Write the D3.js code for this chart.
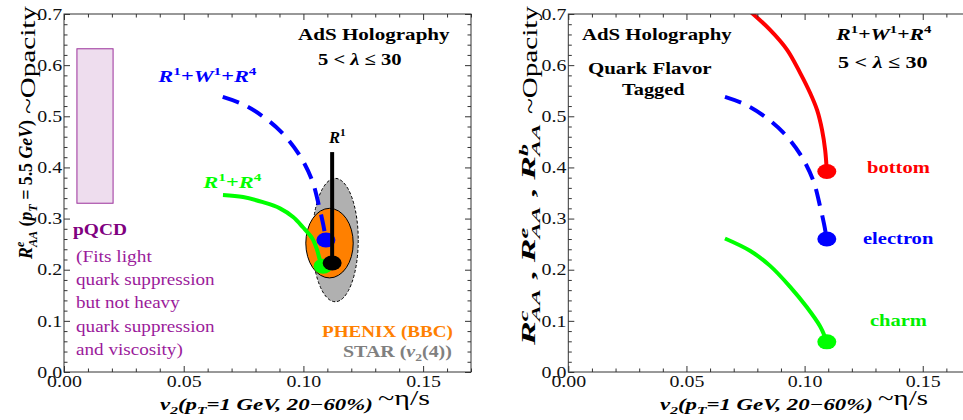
<!DOCTYPE html>
<html><head><meta charset="utf-8">
<script src="https://cdn.jsdelivr.net/npm/d3@7"></script>
<style>body{margin:0;background:#fff}svg{display:block}text{white-space:pre}</style>
</head><body><svg id="c" width="963" height="420"></svg>
<script>
// ---------- data ----------
const xDomain = [0, 0.17];
const yDomain = [0, 0.7];
const xMajor = [0, 0.05, 0.10, 0.15];
const xTickLabels = ["0.00", "0.05", "0.10", "0.15"];
const xMinor = [0.01,0.02,0.03,0.04,0.06,0.07,0.08,0.09,0.11,0.12,0.13,0.14,0.16,0.17];
const yMajor = [0, 0.1, 0.2, 0.3, 0.4, 0.5, 0.6, 0.7];
const yTickLabels = ["0.0","0.1","0.2","0.3","0.4","0.5","0.6","0.7"];
const yMinor = [0.02,0.04,0.06,0.08,0.12,0.14,0.16,0.18,0.22,0.24,0.26,0.28,0.32,0.34,0.36,0.38,
                0.42,0.44,0.46,0.48,0.52,0.54,0.56,0.58,0.62,0.64,0.66,0.68];

// R1+W1+R4 (electron) curve, dashed blue
const electronCurve = [[0.0663,0.538],[0.0745,0.524],[0.0824,0.502],[0.0908,0.469],[0.0981,0.426],
                       [0.1036,0.375],[0.1066,0.323],[0.1082,0.290],[0.1094,0.260]];
// R1+R4 curve, green (left panel)
const r1r4Curve = [[0.0664,0.346],[0.0748,0.342],[0.0831,0.332],[0.0902,0.320],[0.0957,0.303],
                   [0.0998,0.283],[0.1036,0.262],[0.1057,0.239],[0.1069,0.219],[0.1082,0.207]];
// charm curve (right panel)
const charmCurve = [[0.0663,0.261],[0.0769,0.237],[0.0853,0.208],[0.0938,0.167],[0.1009,0.127],
                    [0.1066,0.089],[0.1086,0.069],[0.1094,0.059]];
// bottom curve (right panel)
const bottomCurve = [[0.0752,0.712],[0.0854,0.669],[0.0926,0.630],[0.0981,0.585],[0.1023,0.546],
                     [0.1053,0.512],[0.1074,0.473],[0.1087,0.434],[0.1094,0.392]];
// end points
const leftDots = [{x:0.1094,y:0.258,c:"blue"},{x:0.1082,y:0.207,c:"green"},{x:0.1120,y:0.213,c:"black"}];
const rightDots = [{x:0.1094,y:0.392,c:"red"},{x:0.1094,y:0.260,c:"blue"},{x:0.1094,y:0.059,c:"green"}];
// R1 vertical line
const r1Line = [[0.112,0.430],[0.112,0.213]];
// measurement ellipses [cx, cy, rx, ry]
const starEllipse = [0.1133, 0.258, 0.0096, 0.1206];
const phenixEllipse = [0.1109, 0.252, 0.0099, 0.068];
// pQCD band [x0, x1, y0, y1]
const pqcdBox = [0.0054, 0.0205, 0.330, 0.632];

// ---------- style ----------
const SERIF = "'Liberation Serif', 'Times New Roman', serif";
const COL = {blue:"#0000FF", green:"#00FF00", red:"#FF0000", black:"#000000",
             orange:"#FF8000", gray:"#808080", purple:"#800080", purple2:"#9B1B9B"};
const svg = d3.select("#c");
const TOP = 14, BOT = 372;

function rich(parent, segs, o) {
  const g = parent.append("g");
  const inner = g.append("g");
  const t = inner.append("text").attr("font-family", SERIF).attr("font-size", o.size)
    .attr("fill", o.color || "#000");
  let shift = 0, prevW = 0;
  segs.forEach(([txt, f]) => {
    f = f || "";
    const isSup = f.includes("^"), isSub = f.includes("_");
    const sz = (isSup || isSub) ? o.size * 0.68 : o.size;
    const target = isSup ? -0.42 * o.size : isSub ? 0.27 * o.size : 0;
    const sp = t.append("tspan").text(txt).attr("font-size", sz)
      .attr("font-weight", f.includes("b") ? "bold" : "normal")
      .attr("font-style", f.includes("i") ? "italic" : "normal")
      .attr("dy", target - shift);
    if (f.includes("|")) sp.attr("dx", -prevW);
    shift = target;
    prevW = sp.node().getComputedTextLength();
  });
  const bb = t.node().getBBox();
  const s = o.w / bb.width;
  const sy = o.sy || 1;
  inner.attr("transform", `translate(${-bb.x * s},0) scale(${s},${sy})`);
  if (o.rot) g.attr("transform", `translate(${o.x},${o.y}) rotate(-90)`);
  else g.attr("transform", `translate(${o.x},${o.y})`);
  return g;
}

function panel(L, R, id) {
  const x = d3.scaleLinear(xDomain, [L, R]);
  const y = d3.scaleLinear(yDomain, [BOT, TOP]);
  const g = svg.append("g");
  svg.append("clipPath").attr("id", id).append("rect")
    .attr("x", L).attr("y", TOP).attr("width", R - L).attr("height", BOT - TOP);
  const plot = g.append("g").attr("clip-path", `url(#${id})`);
  const axes = g.append("g");
  const styleAxis = a => {
    a.select(".domain").remove();
    a.selectAll("line").attr("stroke", "#333");
    a.selectAll("text").attr("font-family", SERIF).attr("font-size", 16.3).attr("fill", "#111");
  };
  // bottom
  axes.append("g").attr("transform", `translate(0,${BOT})`)
    .call(d3.axisBottom(x).tickValues(xMajor).tickSize(-6).tickPadding(3)
      .tickFormat((d, i) => xTickLabels[i])).call(styleAxis)
    .selectAll("text").attr("transform", "scale(1.22,1)");
  axes.append("g").attr("transform", `translate(0,${BOT})`)
    .call(d3.axisBottom(x).tickValues(xMinor).tickSize(-3.5).tickFormat("")).call(styleAxis);
  // top
  axes.append("g").attr("transform", `translate(0,${TOP})`)
    .call(d3.axisTop(x).tickValues(xMajor).tickSize(-6).tickFormat("")).call(styleAxis);
  axes.append("g").attr("transform", `translate(0,${TOP})`)
    .call(d3.axisTop(x).tickValues(xMinor).tickSize(-3.5).tickFormat("")).call(styleAxis);
  // left
  axes.append("g").attr("transform", `translate(${L},0)`)
    .call(d3.axisLeft(y).tickValues(yMajor).tickSize(-6).tickPadding(1.5)
      .tickFormat((d, i) => yTickLabels[i])).call(styleAxis)
    .selectAll("text").attr("transform", "scale(1.22,1)");
  axes.append("g").attr("transform", `translate(${L},0)`)
    .call(d3.axisLeft(y).tickValues(yMinor).tickSize(-3.5).tickFormat("")).call(styleAxis);
  // right
  axes.append("g").attr("transform", `translate(${R},0)`)
    .call(d3.axisRight(y).tickValues(yMajor).tickSize(-6).tickFormat("")).call(styleAxis);
  axes.append("g").attr("transform", `translate(${R},0)`)
    .call(d3.axisRight(y).tickValues(yMinor).tickSize(-3.5).tickFormat("")).call(styleAxis);
  // frame
  axes.append("rect").attr("x", L).attr("y", TOP).attr("width", R - L).attr("height", BOT - TOP)
    .attr("fill", "none").attr("stroke", "#333").attr("stroke-width", 1);
  return {x, y, g, plot};
}

const line = (x, y) => d3.line().x(d => x(d[0])).y(d => y(d[1])).curve(d3.curveCatmullRom.alpha(0.5));
const DOT_RX = 9.5, DOT_RY = 7.5;

// ---------- left panel ----------
{
  const {x, y, g, plot} = panel(64, 471, "clipL");
  plot.append("rect").attr("x", x(pqcdBox[0])).attr("y", y(pqcdBox[3]))
    .attr("width", x(pqcdBox[1]) - x(pqcdBox[0])).attr("height", y(pqcdBox[2]) - y(pqcdBox[3]))
    .attr("fill", "#EEDDEE").attr("stroke", "#9B309B").attr("stroke-width", 1);
  const ell = (e, fill, dash) => plot.append("ellipse")
    .attr("cx", x(e[0])).attr("cy", y(e[1]))
    .attr("rx", x(e[0] + e[2]) - x(e[0])).attr("ry", y(e[1]) - y(e[1] + e[3]))
    .attr("fill", fill).attr("stroke", "#000").attr("stroke-width", 1)
    .attr("stroke-dasharray", dash);
  ell(starEllipse, "#B0B0B0", "3,2");
  ell(phenixEllipse, "#FF8000", null);
  const L = line(x, y);
  const dot = d => plot.append("ellipse").attr("cx", x(d.x)).attr("cy", y(d.y))
    .attr("rx", DOT_RX).attr("ry", DOT_RY).attr("fill", COL[d.c]);
  plot.append("path").attr("d", L(electronCurve)).attr("fill", "none").attr("stroke", COL.blue)
    .attr("stroke-width", 4).attr("stroke-dasharray", "17,10");
  dot(leftDots[0]);
  plot.append("path").attr("d", L(r1r4Curve)).attr("fill", "none").attr("stroke", COL.green)
    .attr("stroke-width", 4);
  dot(leftDots[1]);
  plot.append("line").attr("x1", x(r1Line[0][0])).attr("y1", y(r1Line[0][1]))
    .attr("x2", x(r1Line[1][0])).attr("y2", y(r1Line[1][1]))
    .attr("stroke", "#000").attr("stroke-width", 4);
  dot(leftDots[2]);

  rich(g, [["AdS Holography","b"]], {x:298, y:40, w:152, size:17.5});
  rich(g, [["5 < ","b"],["λ","bi"],[" ≤ 30","b"]], {x:318, y:65, w:84, size:17.5});
  rich(g, [["R","bi"],["1","b^"],["+","b"],["W","bi"],["1","b^"],["+","b"],["R","bi"],["4","b^"]],
       {x:157, y:82, w:100, size:16.5, color:COL.blue});
  rich(g, [["R","bi"],["1","b^"]], {x:328, y:143, w:18, size:16.5});
  rich(g, [["R","bi"],["1","b^"],["+","b"],["R","bi"],["4","b^"]],
       {x:202, y:188, w:60, size:16.5, color:COL.green});
  rich(g, [["pQCD","b"]], {x:73, y:235, w:54, size:17.5, color:COL.purple});
  const pl = [["(Fits light",76,262],["quark suppression",139,285],["but not heavy",104,308],
              ["quark suppression",139,332],["and viscosity)",107,355]];
  pl.forEach(([t, w, yy]) => rich(g, [[t,""]], {x:76, y:yy, w, size:17.5, color:COL.purple2}));
  rich(g, [["PHENIX (BBC)","b"]], {x:322, y:337, w:131, size:16.5, color:COL.orange});
  rich(g, [["STAR (","b"],["v","bi"],["2","b_"],["(4))","b"]], {x:343, y:357, w:109, size:16.5, color:COL.gray});
  // axis titles
  rich(g, [["v","bi"],["2","bi_"],["(p","bi"],["T","bi_"],["=1 GeV, 20−60%)","bi"]],
       {x:160, y:410, w:213, size:16.5});
  rich(g, [["~η/s",""]], {x:378, y:405, w:52, size:21});
  rich(g, [["R","bi"],["e","bi^"],["AA","bi_|"],[" (","b"],["p","bi"],["T","bi_"],[" = 5.5 ","b"],["GeV","bi"],[")","b"]],
       {x:32, y:260, w:140, size:17, sy:1.1, rot:true});
  rich(g, [["~Opacity",""]], {x:35, y:114, w:108, size:20, rot:true});
}

// ---------- right panel ----------
{
  const {x, y, g, plot} = panel(568.3, 970, "clipR");
  const L = line(x, y);
  const dot = d => plot.append("ellipse").attr("cx", x(d.x)).attr("cy", y(d.y))
    .attr("rx", DOT_RX).attr("ry", DOT_RY).attr("fill", COL[d.c]);
  plot.append("path").attr("d", L(bottomCurve)).attr("fill", "none").attr("stroke", COL.red)
    .attr("stroke-width", 4);
  dot(rightDots[0]);
  plot.append("path").attr("d", L(electronCurve)).attr("fill", "none").attr("stroke", COL.blue)
    .attr("stroke-width", 4).attr("stroke-dasharray", "17,10");
  dot(rightDots[1]);
  plot.append("path").attr("d", L(charmCurve)).attr("fill", "none").attr("stroke", COL.green)
    .attr("stroke-width", 4);
  dot(rightDots[2]);

  rich(g, [["AdS Holography","b"]], {x:582, y:40, w:150, size:17.5});
  rich(g, [["Quark Flavor","b"]], {x:588, y:74, w:124, size:17.5});
  rich(g, [["Tagged","b"]], {x:622, y:95, w:63, size:17.5});
  rich(g, [["R","bi"],["1","b^"],["+","b"],["W","bi"],["1","b^"],["+","b"],["R","bi"],["4","b^"]],
       {x:835, y:40, w:97, size:16.5});
  rich(g, [["5 < ","b"],["λ","bi"],[" ≤ 30","b"]], {x:838, y:68, w:90, size:17.5});
  rich(g, [["bottom","b"]], {x:867, y:173, w:63, size:17, color:COL.red});
  rich(g, [["electron","b"]], {x:863, y:244, w:71, size:17, color:COL.blue});
  rich(g, [["charm","b"]], {x:870, y:326, w:57, size:17, color:"#00F000"});
  rich(g, [["v","bi"],["2","bi_"],["(p","bi"],["T","bi_"],["=1 GeV, 20−60%)","bi"]],
       {x:660, y:410, w:213, size:16.5});
  rich(g, [["~η/s",""]], {x:878, y:405, w:50, size:21});
  rich(g, [["R","bi"],["c","bi^"],["AA","bi_|"],[" , ","b"],["R","bi"],["e","bi^"],["AA","bi_|"],[" , ","b"],
           ["R","bi"],["b","bi^"],["AA","bi_|"]],
       {x:535, y:347, w:224, size:17, sy:1.05, rot:true});
  rich(g, [["~Opacity",""]], {x:537, y:114, w:108, size:20, rot:true});
}
</script></body></html>
